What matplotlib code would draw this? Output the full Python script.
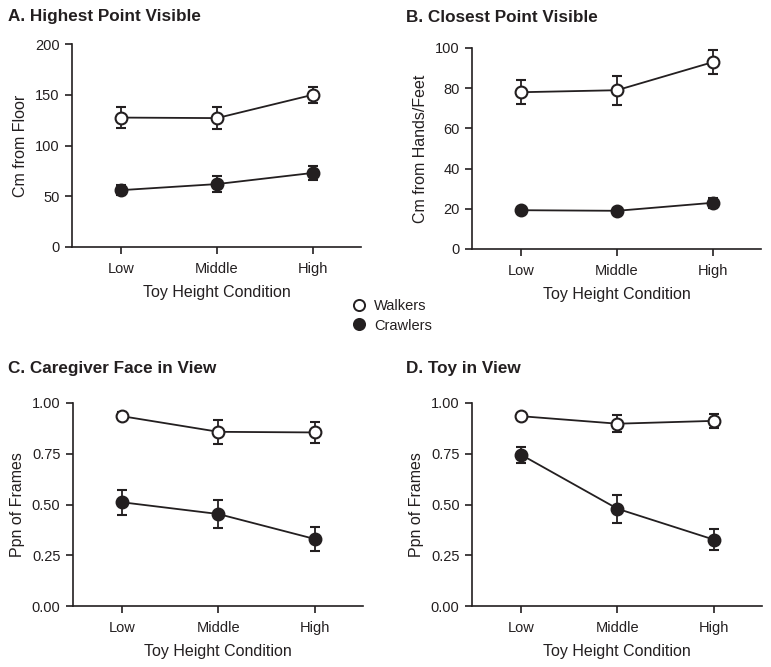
import matplotlib
matplotlib.use("Agg")
import matplotlib.pyplot as plt
from matplotlib.lines import Line2D

plt.rcParams['font.family'] = ['Liberation Sans', 'DejaVu Sans']

conditions = ["Low", "Middle", "High"]
xlabel_text = "Toy Height Condition"

# Panel A: Highest point visible (cm from floor)
a_walk = [127.5, 127, 150]
a_walk_err = [10, 11, 8]
a_crawl = [56, 62, 73]
a_crawl_err = [5, 8, 7]

# Panel B: Closest point visible (cm from hands/feet)
b_walk = [78, 79, 93]
b_walk_err = [6, 7.3, 6]
b_crawl = [19.3, 19, 23]
b_crawl_err = [1.5, 1.5, 2.5]

# Panel C: Caregiver face in view (proportion of frames)
c_walk = [0.935, 0.858, 0.855]
c_walk_err = [0.02, 0.06, 0.05]
c_crawl = [0.511, 0.453, 0.330]
c_crawl_err = [0.062, 0.07, 0.058]

# Panel D: Toy in view (proportion of frames)
d_walk = [0.935, 0.898, 0.912]
d_walk_err = [0.018, 0.043, 0.034]
d_crawl = [0.745, 0.479, 0.327]
d_crawl_err = [0.04, 0.068, 0.053]

panels = [
    ("A. Highest Point Visible", "Cm from Floor", a_walk, a_walk_err, a_crawl, a_crawl_err,
     (0, 200), [0, 50, 100, 150, 200], ["0", "50", "100", "150", "200"]),
    ("B. Closest Point Visible", "Cm from Hands/Feet", b_walk, b_walk_err, b_crawl, b_crawl_err,
     (0, 100), [0, 20, 40, 60, 80, 100], ["0", "20", "40", "60", "80", "100"]),
    ("C. Caregiver Face in View", "Ppn of Frames", c_walk, c_walk_err, c_crawl, c_crawl_err,
     (0, 1), [0, 0.25, 0.5, 0.75, 1.0], ["0.00", "0.25", "0.50", "0.75", "1.00"]),
    ("D. Toy in View", "Ppn of Frames", d_walk, d_walk_err, d_crawl, d_crawl_err,
     (0, 1), [0, 0.25, 0.5, 0.75, 1.0], ["0.00", "0.25", "0.50", "0.75", "1.00"]),
]

W, H = 771, 667
fig = plt.figure(figsize=(W / 100, H / 100), dpi=100)

# axes boxes in pixels: (left, right, top, bottom)
boxes = [
    (72, 361, 44, 247),
    (472, 761, 48, 249),
    (73, 363, 403, 606),
    (472, 762, 403, 606),
]
title_pos = [(8, 16), (406, 18), (8, 368), (406, 368)]

ink = '#231f20'
xs = list(range(len(conditions)))

for (title, ylab, w, we, c, ce, ylim, yt, ytl), (l, r, t, b), (tx, ty) in zip(panels, boxes, title_pos):
    ax = fig.add_axes([l / W, 1 - b / H, (r - l) / W, (b - t) / H])
    ax.errorbar(xs, w, yerr=we, color=ink, lw=1.3, marker='o', ms=8.5, mfc='white', mec=ink,
                mew=1.5, capsize=3.3, capthick=1.3, elinewidth=1.3, zorder=3)
    ax.errorbar(xs, c, yerr=ce, color=ink, lw=1.3, marker='o', ms=8.5, mfc=ink, mec=ink,
                mew=1.5, capsize=3.3, capthick=1.3, elinewidth=1.3, zorder=3)
    ax.set_xlim(-0.51, 2.5)
    ax.set_ylim(*ylim)
    ax.set_yticks(yt)
    ax.set_yticklabels(ytl)
    ax.set_xticks(xs)
    ax.set_xticklabels(conditions)
    for s in ['top', 'right']:
        ax.spines[s].set_visible(False)
    for s in ['left', 'bottom']:
        ax.spines[s].set_linewidth(1.2)
        ax.spines[s].set_color(ink)
    ax.tick_params(direction='out', length=5, width=1.2, color=ink, labelsize=10.5, labelcolor=ink, pad=4)
    ax.tick_params(axis='x', pad=6)
    ax.set_xlabel(xlabel_text, fontsize=11.5, color=ink, labelpad=6)
    ax.set_ylabel(ylab, fontsize=11.5, color=ink, labelpad=5)
    fig.text(tx / W, 1 - ty / H, title, fontsize=12.3, fontweight='bold', color=ink,
             ha='left', va='center')

# legend in the middle of the figure
handles = [
    Line2D([], [], ls='none', marker='o', ms=8, mfc='white', mec=ink, mew=1.4, label='Walkers'),
    Line2D([], [], ls='none', marker='o', ms=8, mfc=ink, mec=ink, mew=1.4, label='Crawlers'),
]
fig.legend(handles=handles, loc='center', bbox_to_anchor=(392 / W, 1 - 316 / H), frameon=False,
           fontsize=10.5, handletextpad=0.5, labelspacing=0.35, handlelength=1.0, labelcolor=ink)

fig.savefig('out.png', dpi=100)
